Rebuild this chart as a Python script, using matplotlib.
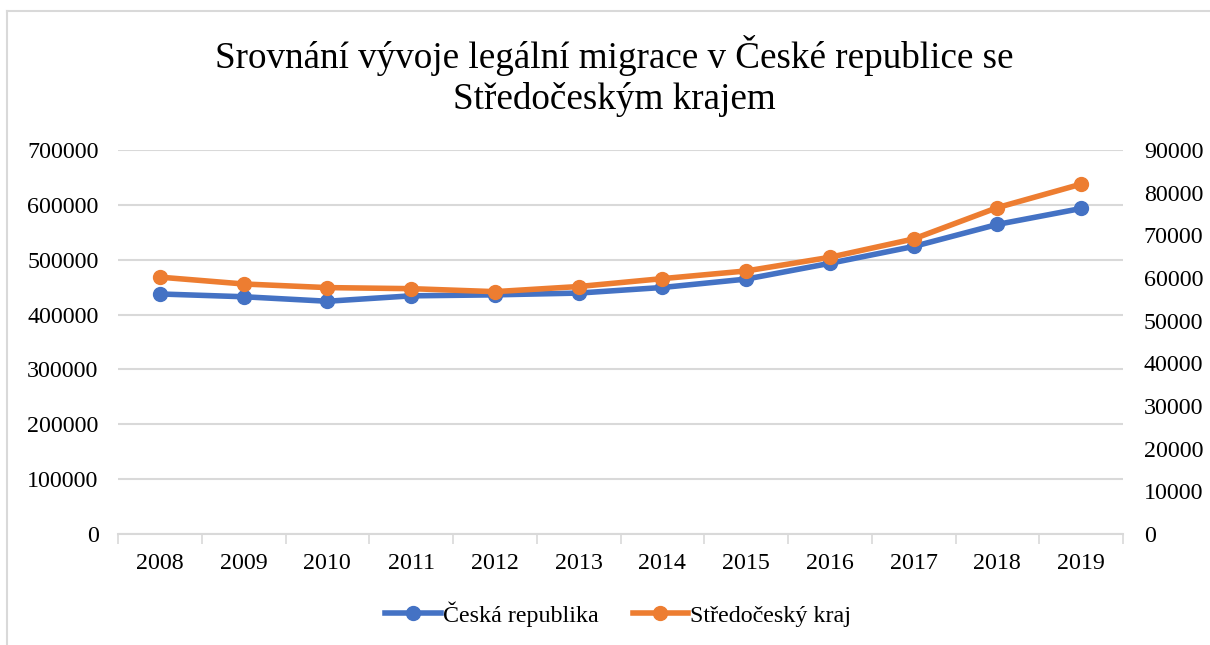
import matplotlib.pyplot as plt
from matplotlib.lines import Line2D
import numpy as np

# data
roky = ['2008', '2009', '2010', '2011', '2012', '2013', '2014', '2015', '2016', '2017', '2018', '2019']
cr = [437565, 432503, 424291, 434153, 435946, 439189, 449367, 464670, 493441, 524142, 564345, 593366]
stc = [60200, 58600, 57750, 57500, 56800, 58000, 59850, 61650, 64850, 69150, 76500, 82000]

modra = '#4472C4'
oranz = '#ED7D31'
seda = '#D9D9D9'

plt.rcParams['font.family'] = ['Liberation Serif', 'DejaVu Serif']

fig = plt.figure(figsize=(12.1, 6.45), dpi=100)
ax = fig.add_axes([118/1210, 1-534/645, (1123-118)/1210, (534-150)/645])
ax2 = ax.twinx()

x = np.arange(len(roky))
ax.plot(x, cr, color=modra, lw=4, marker='o', ms=10, label='Česká republika', zorder=3)
ax2.plot(x, stc, color=oranz, lw=4, marker='o', ms=10, label='Středočeský kraj', zorder=3)

ax.set_xlim(-0.5, len(roky)-0.5)
ax.set_ylim(0, 700000)
ax2.set_ylim(0, 90000)
ax.set_yticks(range(0, 700001, 100000))
ax2.set_yticks(range(0, 90001, 10000))
ax.set_xticks(x)
ax.set_xticklabels(roky)
ax.set_xticks(np.arange(-0.5, len(roky), 1), minor=True)

ax.grid(axis='y', color=seda, lw=1.5)
ax.set_axisbelow(True)
for a in (ax, ax2):
    for s in a.spines.values():
        s.set_visible(False)
ax.spines['bottom'].set_visible(True)
ax.spines['bottom'].set_color(seda)
ax.spines['bottom'].set_linewidth(1.5)

ax.tick_params(axis='y', length=0, pad=14, labelsize=17.3)
ax2.tick_params(axis='y', length=0, pad=15, labelsize=17.3)
ax.tick_params(axis='x', which='major', length=0, pad=14, labelsize=17.3)
ax.tick_params(axis='x', which='minor', length=7, width=1.2, color=seda)

fig.text(0.508, 1-76/645, 'Srovnání vývoje legální migrace v České republice se\nStředočeským krajem',
         ha='center', va='center', fontsize=26.7, linespacing=1.22)

h = [Line2D([], [], color=modra, lw=4, marker='o', ms=10),
     Line2D([], [], color=oranz, lw=4, marker='o', ms=10)]
fig.legend(h, ['Česká republika', 'Středočeský kraj'], loc='center', bbox_to_anchor=(0.511, 1-614/645),
           ncol=2, frameon=False, fontsize=17.3, handlelength=2.3, handletextpad=0.1, columnspacing=1.4)

# ramecek
fig.add_artist(Line2D([7/1210, 1], [1-11/645, 1-11/645], color=seda, lw=1.5))
fig.add_artist(Line2D([7/1210, 7/1210], [0, 1-11/645], color=seda, lw=1.5))

fig.savefig('out.png', dpi=100)
